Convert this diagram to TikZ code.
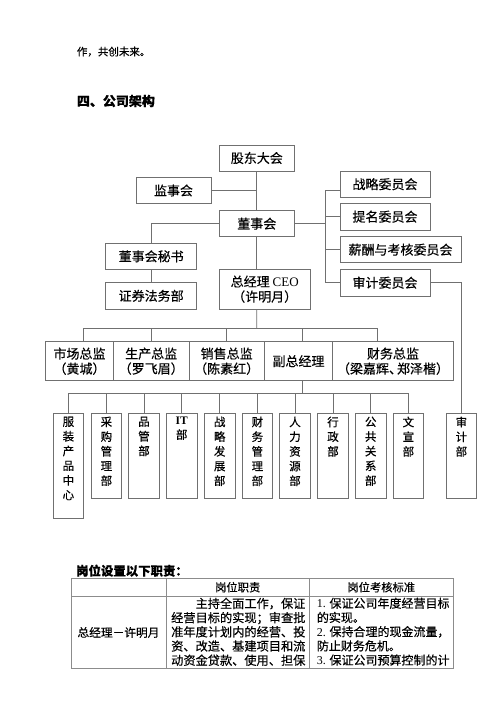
\documentclass[tikz,border=0pt]{standalone}
\usepackage{fontspec}
\setmainfont{Noto Sans CJK SC}[FakeBold=0.4]
\newfontfamily\lat{Liberation Serif}
\usepackage{tikz}
\usepackage{xcolor}
\definecolor{linegray}{RGB}{112,112,112}
\definecolor{tblgray}{RGB}{140,140,140}
\newcommand{\vcol}[2]{\parbox[c][#1][t]{14pt}{\centering #2}}

\begin{document}
\begin{tikzpicture}[x=1pt,y=-1pt,every node/.style={inner sep=0pt},
  box/.style={draw=linegray,line width=0.8pt,align=center,font=\fontsize{13}{15}\selectfont},
  dept/.style={draw=linegray,line width=0.8pt,anchor=north west,inner xsep=0pt,inner ysep=3pt,minimum width=30.6pt,font=\fontsize{11.5}{14.7}\selectfont},
  conn/.style={draw=linegray,line width=0.8pt},
  tbl/.style={draw=tblgray,line width=0.7pt}]
\useasboundingbox (0,0) rectangle (500,707);
\fill[white] (0,0) rectangle (500,707);
% page text
\node[anchor=west,font=\fontsize{10.5}{12}\selectfont] (intro) at (76.7,51.7) {作，共创未来。};
\node[anchor=west,font=\fontsize{13}{15}\selectfont\bfseries] (title) at (76.7,101) {四、公司架构};
% top of chart
\node[box,minimum width=75pt,minimum height=26pt] (gd) at (256.8,158) {股东大会};
\node[box,minimum width=75pt,minimum height=25.6pt] (jsh) at (173.5,190.5) {监事会};
\node[box,minimum width=75pt,minimum height=26pt] (dsh) at (256.8,223.7) {董事会};
\node[box,minimum width=91pt,minimum height=26pt] (mishu) at (151.2,256.3) {董事会秘书};
\node[box,minimum width=91pt,minimum height=26.3pt] (zqfw) at (151.2,295.8) {证券法务部};
\node[box,minimum width=90.7pt,minimum height=39.7pt] (ceo) at (264.7,289.2) {总经理 {\lat CEO}\\（许明月）};
% committees
\node[box,minimum width=90pt,minimum height=26.3pt] (zlwy) at (385,184.2) {战略委员会};
\node[box,minimum width=90pt,minimum height=26.7pt] (tmwy) at (385,216.7) {提名委员会};
\node[box,minimum width=121pt,minimum height=26pt] (xcwy) at (400.5,249.7) {薪酬与考核委员会};
\node[box,minimum width=90pt,minimum height=26.7pt] (sjwy) at (385,282.7) {审计委员会};
% directors
\node[box,minimum width=67.6pt,minimum height=39pt] (scz) at (79.5,361.2) {市场总监\\（黄城）};
\node[box,minimum width=75.7pt,minimum height=39pt] (scjz) at (151.2,361.2) {生产总监\\（罗飞眉）};
\node[box,minimum width=75.3pt,minimum height=39pt] (xsz) at (226.7,361.2) {销售总监\\（陈素红）};
\node[box,minimum width=68.4pt,minimum height=39pt] (fzjl) at (298.5,361.2) {副总经理};
\node[box,minimum width=120.6pt,minimum height=39pt] (cwz) at (393,361.2) {财务总监\\（梁嘉辉、\kern-5pt郑泽楷）};
% departments
\node[dept] (fzzx) at (52.7,413.3) {\vcol{99pt}{服\\装\\产\\品\\中\\心}};
\node[dept] (cgb) at (90.7,413.3) {\vcol{79pt}{采\\购\\管\\理\\部}};
\node[dept] (pgb) at (128.3,413.3) {\vcol{79pt}{品\\管\\部}};
\node[dept] (itb) at (166,413.3) {\vcol{79pt}{{\lat\bfseries IT}\\部}};
\node[dept] (zlfz) at (204,413.3) {\vcol{79pt}{战\\略\\发\\展\\部}};
\node[dept] (cwgl) at (241.7,413.3) {\vcol{79pt}{财\\务\\管\\理\\部}};
\node[dept] (rlzy) at (279.3,413.3) {\vcol{79pt}{人\\力\\资\\源\\部}};
\node[dept] (xzb) at (317.3,413.3) {\vcol{79pt}{行\\政\\部}};
\node[dept] (ggxx) at (355,413.3) {\vcol{79pt}{公\\共\\关\\系\\部}};
\node[dept] (wxb) at (392.7,413.3) {\vcol{79pt}{文\\宣\\部}};
\node[dept] (sjb) at (445.7,413.3) {\vcol{79pt}{审\\计\\部}};
% connectors
\draw[conn] (gd.south) -- (dsh.north);
\draw[conn] (jsh.east) -- (jsh.east -| gd.south);
\draw[conn] (dsh.west) -| (mishu.north);
\draw[conn] (mishu.south) -- (zqfw.north);
\draw[conn] (dsh.south) -- (dsh.south |- ceo.north);
\coordinate (rsp) at (325.7,223.7);
\draw[conn] (dsh.east) -- (rsp);
\draw[conn] ([yshift=-6.5pt]zlwy.west) -| (sjwy.west -| rsp) -- (sjwy.west);
\draw[conn] (tmwy.west) -- (tmwy.west -| rsp);
\draw[conn] (xcwy.west) -- (xcwy.west -| rsp);
\draw[conn] (sjwy.east) -| (sjb.north);
\coordinate (ceobus) at (256.7,328.3);
\draw[conn] (ceo.south -| gd.south) -- (ceobus);
\draw[conn] ([xshift=3.8pt]scz.north) |- ([xshift=-15.3pt]cwz.north |- ceobus) -- ([xshift=-15.3pt]cwz.north);
\draw[conn] (scjz.north) -- (scjz.north |- ceobus);
\draw[conn] (xsz.north) -- (xsz.north |- ceobus);
\draw[conn] ([xshift=3.8pt]fzjl.north) -- ([xshift=3.8pt]fzjl.north |- ceobus);
\coordinate (deptbus) at (302.3,393.3);
\draw[conn] ([xshift=3.8pt]fzjl.south) -- (deptbus);
\draw[conn] (fzzx.north) |- (wxb.north |- deptbus) -- (wxb.north);
\draw[conn] (cgb.north) -- (cgb.north |- deptbus);
\draw[conn] (pgb.north) -- (pgb.north |- deptbus);
\draw[conn] (itb.north) -- (itb.north |- deptbus);
\draw[conn] (zlfz.north) -- (zlfz.north |- deptbus);
\draw[conn] (cwgl.north) -- (cwgl.north |- deptbus);
\draw[conn] (rlzy.north) -- (rlzy.north |- deptbus);
\draw[conn] (xzb.north) -- (xzb.north |- deptbus);
\draw[conn] (ggxx.north) -- (ggxx.north |- deptbus);
% duties table
\node[anchor=west,font=\fontsize{12.4}{14}\selectfont\bfseries] (gwtitle) at (76,570.7) {岗位设置以下职责：};
\draw[tbl] (71,578.3) rectangle (453.3,668.3);
\draw[tbl] (71,596) -- (453.3,596);
\draw[tbl] (166,578.3) -- (166,668.3);
\draw[tbl] (309.3,578.3) -- (309.3,668.3);
\node[font=\fontsize{11.3}{13}\selectfont] (hzz) at (237.7,587.2) {岗位职责};
\node[font=\fontsize{11.3}{13}\selectfont] (hkh) at (381.3,587.2) {岗位考核标准};
\node[font=\fontsize{11.7}{14}\selectfont] (post) at (118.5,632.5) {总经理－许明月};
\node[anchor=north west,align=left,font=\fontsize{12.2}{14.2}\selectfont] (zz) at (171,597.5) {\hspace*{24.4pt}主持全面工作，保证\\经营目标的实现；审查批\\准年度计划内的经营、投\\资、改造、基建项目和流\\动资金贷款、使用、担保};
\node[anchor=north west,align=left,font=\fontsize{12}{14.2}\selectfont] (khbz) at (316.7,597.5) {{\lat 1.} 保证公司年度经营目标\\的实现。\\{\lat 2.} 保持合理的现金流量，\\防止财务危机。\\{\lat 3.} 保证公司预算控制的计};
\end{tikzpicture}
\end{document}
